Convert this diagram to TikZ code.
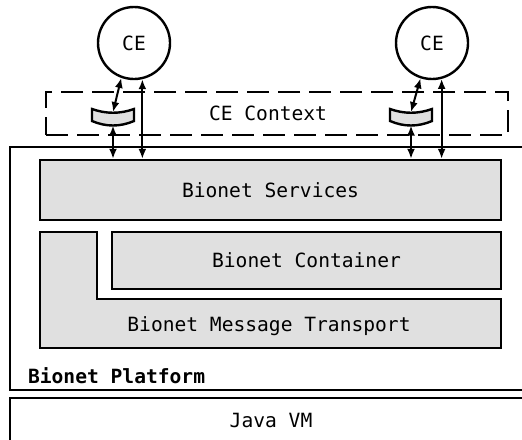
\documentclass[tikz,border=0pt]{standalone}
\usepackage{fontspec}
\setmainfont{DejaVu Sans Mono}
\usepackage{xcolor}
\usepackage{tikz}
\usetikzlibrary{arrows.meta}
\usetikzlibrary{positioning, calc}
\definecolor{dotgray}{rgb}{0.88,0.88,0.88}

\begin{document}
\begin{tikzpicture}[x=0.5pt, y=-0.5pt,
    font=\fontsize{9.8}{11}\selectfont,
    layer/.style={draw, line width=1.2pt, fill=dotgray},
    ce/.style={draw, circle, line width=1.2pt, minimum size=36pt, inner sep=0pt},
    link/.style={line width=1pt, {Latex[length=5pt,width=4pt]}-{Latex[length=5pt,width=4pt]}}]
    \useasboundingbox (0,0) rectangle (522,439);
    \clip (0,0) rectangle (522,439);

    % PLATFORM AND VM
    \draw[line width=1.2pt] (10,147) rectangle (540,390);
    \draw[line width=1.2pt] (10,398) rectangle (540,470);
    \node[font=\fontsize{9.8}{11}\selectfont\bfseries, anchor=west] (platform) at (21,376) {Bionet Platform};
    \node (vm) at (271,420) {Java VM};

    % LAYERS
    \node[layer, minimum width=230.5pt, minimum height=30pt, inner sep=0pt] (services) at (270.5,190) {Bionet Services};
    \draw[layer] (40,232) -- (97,232) -- (97,299) -- (501,299) -- (501,348) -- (40,348) -- cycle;
    \node (transport) at (269,326) {Bionet Message Transport};
    \node[layer, minimum width=194.5pt, minimum height=28.5pt, inner sep=0pt] (container) at (306.5,260.5) {Bionet Container};

    % CE CONTEXT
    \node[draw, line width=1.2pt, dash pattern=on 11pt off 4.5pt, minimum width=231pt, minimum height=21.5pt] (context) at (277,113.5) {};
    \node (ctxlabel) at (268,113) {CE Context};

    % ONE CE PER COLUMN
    \foreach \n/\x/\c/\a/\b in {
        L/92/134/250/283, %   left CE
        R/390/432/252/285  %   right CE
        } {
        \node[ce] (ce\n) at (\c,43) {CE};
        \draw[layer] (\x,109) .. controls (\x+14,114) and (\x+28,114) .. (\x+42,109)
            -- (\x+42,121) .. controls (\x+28,127) and (\x+14,127) .. (\x,121) -- cycle;
        \coordinate (bkt\n top) at (\x+21,112);
        \coordinate (bkt\n bot) at (\x+21,125.5);
        \draw[link] (ce\n.\a) -- (bkt\n top);
        \draw[link] (bkt\n bot) -- (bkt\n bot |- services.north);
        \draw[link] (ce\n.\b) -- (ce\n.\b |- services.north);
    }

\end{tikzpicture}
\end{document}
